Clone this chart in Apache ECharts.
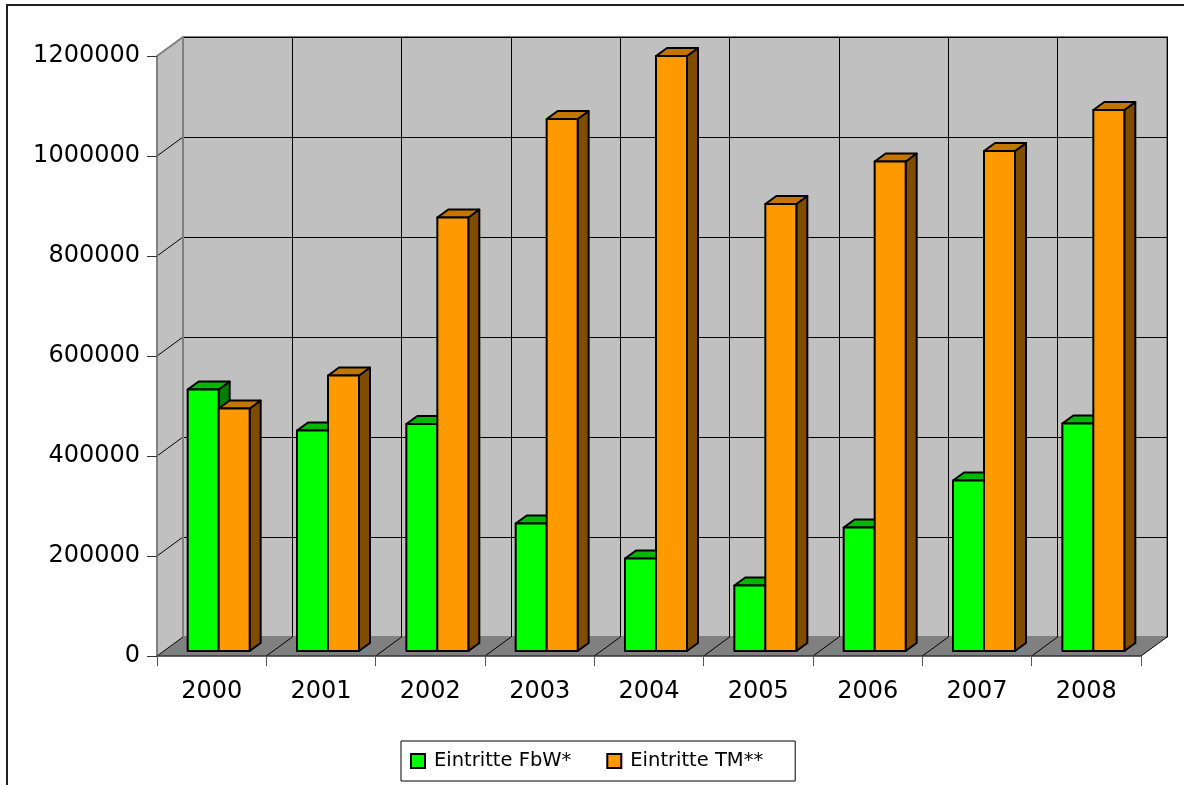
<!DOCTYPE html>
<html>
<head>
<meta charset="utf-8">
<style>
  html, body { margin: 0; padding: 0; background: #fff; }
  #container { width: 1184px; height: 785px; }
</style>
</head>
<body>
<div id="container"></div>
<script src="https://cdn.jsdelivr.net/npm/echarts@6/dist/echarts.min.js"></script>
<script>
  var years = ['2000', '2001', '2002', '2003', '2004', '2005', '2006', '2007', '2008'];
  var fbw = [523000, 441000, 454000, 255000, 185000, 131000, 247000, 341000, 455000];
  var tm = [485000, 551000, 867000, 1064000, 1190000, 894000, 979000, 1000000, 1082000];
  var yMax = 1200000;
  var yStep = 200000;

  // depth of the pseudo-3d box (front plane -> back wall)
  var WX = 26, WY = -19;
  // bars sit a bit behind the front plane and have their own depth
  var OX = 7, OY = -5;
  var BX = 11, BY = -8;
  var BAR_FRAC = 0.2835;

  var chart = echarts.init(document.getElementById('container'), null, { renderer: 'canvas' });

  function frameItem(params, api) {
    var cs = params.coordSys;
    var yb = cs.y + cs.height;
    var band = cs.width / years.length;
    var kids = [];
    // left side wall
    kids.push({ type: 'polygon', shape: { points: [[cs.x, cs.y], [cs.x + WX, cs.y + WY], [cs.x + WX, yb + WY], [cs.x, yb]] },
      style: { fill: '#c0c0c0', stroke: null } });
    // floor
    kids.push({ type: 'polygon', shape: { points: [[cs.x, yb], [cs.x + WX, yb + WY], [cs.x + cs.width + WX, yb + WY], [cs.x + cs.width, yb]] },
      style: { fill: '#808080', stroke: null } });
    // slanted lines on the side wall
    for (var v = 0; v <= yMax; v += yStep) {
      var y = api.coord([0, v])[1];
      var top = v === yMax;
      kids.push({ type: 'line', shape: { x1: cs.x, y1: y, x2: cs.x + WX, y2: y + WY },
        style: { stroke: top ? '#808080' : '#000', lineWidth: top ? 2 : 1 } });
    }
    // slanted lines on the floor
    for (var i = 1; i <= years.length; i++) {
      var x = cs.x + i * band;
      kids.push({ type: 'line', shape: { x1: x, y1: yb, x2: x + WX, y2: yb + WY },
        style: { stroke: '#000', lineWidth: 1 } });
    }
    // back edge of side wall
    kids.push({ type: 'line', shape: { x1: cs.x + WX, y1: cs.y + WY, x2: cs.x + WX, y2: yb + WY },
      style: { stroke: '#808080', lineWidth: 2 } });
    return { type: 'group', children: kids };
  }

  function barItem(side, cFront, cTop, cSide) {
    return function (params, api) {
      var cat = api.value(0), val = api.value(1);
      var base = api.coord([cat, 0]);
      var tip = api.coord([cat, val]);
      var w = api.size([1, 0])[0] * BAR_FRAC;
      var x0 = base[0] + OX + (side === 0 ? -w : 0);
      var x1 = x0 + w;
      var yb = base[1] + OY, yt = tip[1] + OY;
      var st = { stroke: '#000', lineWidth: 2, lineJoin: 'round' };
      return {
        type: 'group',
        children: [
          { type: 'polygon', shape: { points: [[x1, yt], [x1 + BX, yt + BY], [x1 + BX, yb + BY], [x1, yb]] },
            style: Object.assign({ fill: cSide }, st) },
          { type: 'polygon', shape: { points: [[x0, yt], [x1, yt], [x1 + BX, yt + BY], [x0 + BX, yt + BY]] },
            style: Object.assign({ fill: cTop }, st) },
          { type: 'rect', shape: { x: x0, y: yt, width: w, height: yb - yt },
            style: Object.assign({ fill: cFront }, st) }
        ]
      };
    };
  }

  var labelFont = { fontFamily: 'DejaVu Sans', fontSize: 24, color: '#000' };

  var option = {
    animation: false,
    backgroundColor: '#fff',
    graphic: [{
      type: 'rect', z: 100, silent: true,
      shape: { x: 7, y: 5, width: 1250, height: 850 },
      style: { fill: null, stroke: '#222', lineWidth: 2 }
    }],
    grid: [
      { left: 157, top: 56, width: 984, height: 600 },
      { left: 183, top: 37, width: 984, height: 600, show: true,
        backgroundColor: '#c0c0c0', borderColor: '#808080', borderWidth: 2 }
    ],
    xAxis: [
      { gridIndex: 0, type: 'category', data: years, z: 5,
        axisLine: { show: true, lineStyle: { color: '#333', width: 1.5 } },
        axisTick: { show: true, length: 10, lineStyle: { color: '#555', width: 1 } },
        axisLabel: Object.assign({ margin: 24 }, labelFont),
        splitLine: { show: false } },
      { gridIndex: 1, type: 'category', data: years,
        axisLine: { show: false }, axisTick: { show: false }, axisLabel: { show: false },
        splitLine: { show: true, lineStyle: { color: '#000', width: 1 } } }
    ],
    yAxis: [
      { gridIndex: 0, type: 'value', min: 0, max: yMax, interval: yStep, z: 5,
        axisLine: { show: true, lineStyle: { color: '#808080', width: 2 } },
        axisTick: { show: true, length: 10, lineStyle: { color: '#333', width: 1 } },
        axisLabel: Object.assign({ margin: 17, formatter: function (v) { return String(v); } }, labelFont),
        splitLine: { show: false } },
      { gridIndex: 1, type: 'value', min: 0, max: yMax, interval: yStep,
        axisLine: { show: false }, axisTick: { show: false }, axisLabel: { show: false },
        splitLine: { show: true, lineStyle: { color: '#000', width: 1 } } }
    ],
    legend: {
      left: 401, top: 741,
      data: [{ name: 'Eintritte FbW*', icon: 'rect' }, { name: 'Eintritte TM**', icon: 'rect' }],
      itemWidth: 14, itemHeight: 14, itemGap: 35,
      itemStyle: { borderColor: '#000', borderWidth: 2 },
      textStyle: { fontFamily: 'DejaVu Sans', fontSize: 19.5, color: '#000', padding: [0, 0, 0, 4] },
      backgroundColor: '#fff', borderColor: '#000', borderWidth: 1,
      padding: [10, 32, 10, 9]
    },
    series: [
      { type: 'custom', name: 'frame', xAxisIndex: 0, yAxisIndex: 0, z: 1, silent: true, clip: false,
        renderItem: frameItem, data: [[0, 0]] },
      { type: 'custom', name: 'Eintritte FbW*', xAxisIndex: 0, yAxisIndex: 0, z: 3, clip: false,
        itemStyle: { color: '#00ff00' },
        renderItem: barItem(0, '#00ff00', '#00b800', '#008000'),
        encode: { x: 0, y: 1 },
        data: years.map(function (y, i) { return [i, fbw[i]]; }) },
      { type: 'custom', name: 'Eintritte TM**', xAxisIndex: 0, yAxisIndex: 0, z: 3, clip: false,
        itemStyle: { color: '#ff9900' },
        renderItem: barItem(1, '#ff9900', '#c47500', '#7f4c00'),
        encode: { x: 0, y: 1 },
        data: years.map(function (y, i) { return [i, tm[i]]; }) }
    ]
  };

  chart.setOption(option);
</script>
</body>
</html>
